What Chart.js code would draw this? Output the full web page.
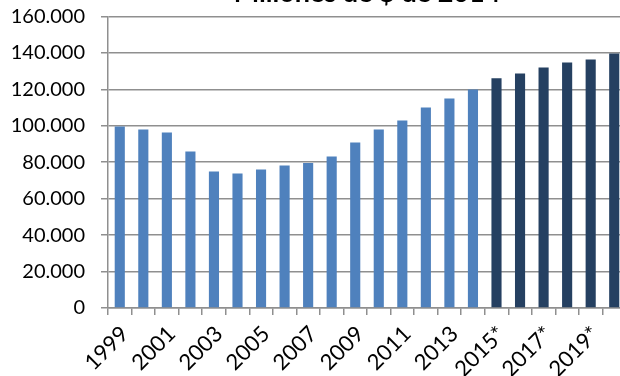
<!DOCTYPE html>
<html>
<head>
<meta charset="utf-8">
<script src="https://cdn.jsdelivr.net/npm/chart.js@4/dist/chart.umd.min.js"></script>
<style>
  html, body { margin: 0; padding: 0; background: #fff; overflow: hidden; width: 620px; height: 376px; }
  #wrap { position: absolute; left: 0; top: -30px; width: 640px; height: 426px; }
</style>
</head>
<body>
<div id="wrap"><canvas id="c"></canvas></div>
<script>
const titleText = 'Millones de $ de 2014';
const years = ['1999','2000','2001','2002','2003','2004','2005','2006','2007','2008','2009','2010','2011','2012','2013','2014','2015*','2016*','2017*','2018*','2019*','2020*'];
const historic = [99600, 98000, 96300, 85900, 74900, 73800, 76000, 78200, 79500, 83100, 90800, 98000, 102900, 110000, 115000, 119900, null, null, null, null, null, null];
const projected = [null, null, null, null, null, null, null, null, null, null, null, null, null, null, null, null, 126000, 128700, 132000, 134700, 136400, 139600];
const yTicks = [0, 20000, 40000, 60000, 80000, 100000, 120000, 140000, 160000];

const fontFam = 'Lato, "Liberation Sans", sans-serif';
const gridCol = '#8f8f8f';

new Chart(document.getElementById('c'), {
  type: 'bar',
  data: {
    labels: years,
    datasets: [
      { label: 'Histórico', data: historic, backgroundColor: '#4F81BD', grouped: false, barPercentage: 0.43, categoryPercentage: 1 },
      { label: 'Proyección', data: projected, backgroundColor: '#254061', grouped: false, barPercentage: 0.43, categoryPercentage: 1 }
    ]
  },
  options: {
    responsive: true,
    maintainAspectRatio: false,
    animation: false,
    layout: { padding: { left: 0, right: 14, top: 0, bottom: 0 } },
    plugins: {
      legend: { display: false },
      tooltip: { enabled: false },
      title: {
        display: true,
        fullSize: false,
        text: titleText,
        color: '#000',
        font: { family: fontFam, size: 27, weight: 'bold' },
        padding: { top: 7, bottom: 7 }
      }
    },
    scales: {
      x: {
        offset: true,
        grid: { display: true, drawOnChartArea: false, drawTicks: true, tickLength: 7, color: gridCol, lineWidth: 1.5, offset: true },
        border: { display: true, color: gridCol, width: 1.5 },
        ticks: {
          autoSkip: false,
          maxRotation: 45,
          minRotation: 45,
          padding: 6,
          labelOffset: 5,
          color: '#000',
          font: { family: fontFam, size: 22 },
          callback: function(v, i) { return i % 2 === 0 ? years[i] : ''; }
        },
        afterFit: function(s) { s.height = 88; }
      },
      y: {
        min: 0,
        max: 160000,
        afterBuildTicks: function(s) { s.ticks = yTicks.map(v => ({ value: v })); },
        grid: { color: gridCol, lineWidth: 1.5, tickLength: 7, drawTicks: true },
        border: { display: true, color: gridCol, width: 1.5 },
        ticks: {
          padding: 16,
          color: '#000',
          font: { family: fontFam, size: 20 },
          callback: function(v) { return v === 0 ? '0' : v.toLocaleString('de-DE', { minimumFractionDigits: 0 }); }
        },
        afterFit: function(s) { s.width = 108; }
      }
    }
  }
});
</script>
</body>
</html>
